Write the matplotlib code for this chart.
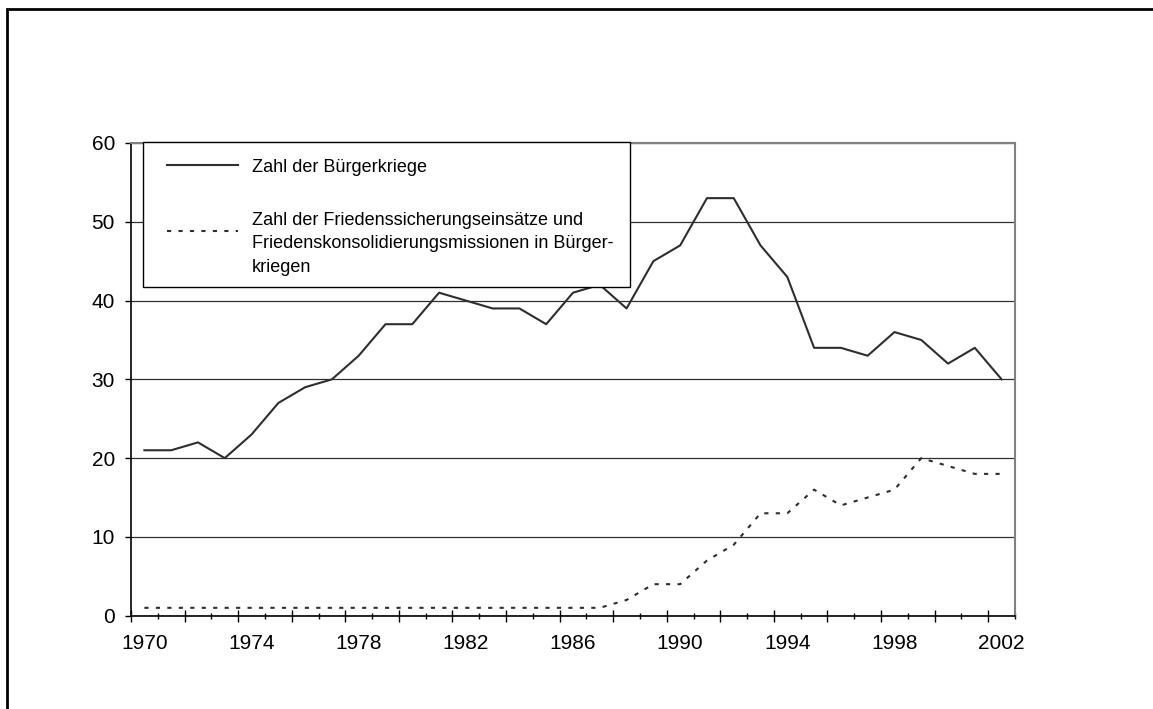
import matplotlib
matplotlib.use("Agg")
from matplotlib import pyplot as plt
from matplotlib.patches import Rectangle
from matplotlib.lines import Line2D

plt.rcParams['font.family'] = ['Liberation Sans', 'DejaVu Sans']

# Jahre und Werte
years = list(range(1970, 2003))
buergerkriege = [21, 21, 22, 20, 23, 27, 29, 30, 33, 37, 37, 41, 40, 39, 39, 37, 41,
                 42, 39, 45, 47, 53, 53, 47, 43, 34, 34, 33, 36, 35, 32, 34, 30]
missionen = [1, 1, 1, 1, 1, 1, 1, 1, 1, 1, 1, 1, 1, 1, 1, 1, 1,
             1, 2, 4, 4, 7, 9, 13, 13, 16, 14, 15, 16, 20, 19, 18, 18]
label_years = [1970, 1974, 1978, 1982, 1986, 1990, 1994, 1998, 2002]
legend_labels = ["Zahl der Bürgerkriege",
                 "Zahl der Friedenssicherungseinsätze und\n"
                 "Friedenskonsolidierungsmissionen in Bürger-\nkriegen"]

W, H = 1153, 709
fig = plt.figure(figsize=(W / 100, H / 100), dpi=100)

def fx(px):
    return px / W

def fy(py):
    return 1 - py / H

ax = fig.add_axes([fx(131), fy(615.7), fx(1015) - fx(131), fy(143) - fy(615.7)])

x = list(range(len(years)))
ax.plot(x, buergerkriege, color="#2e2e2e", lw=1.5, zorder=3)
ax.plot(x, missionen, color="#2e2e2e", lw=1.5, dashes=(2, 3.5), zorder=3)

ax.set_xlim(-0.5, len(years) - 0.5)
ax.set_ylim(0, 60)
ax.set_yticks(range(0, 61, 10))
ax.yaxis.grid(True, color="#303030", lw=0.9)
ax.set_axisbelow(True)

# Beschriftung in der Mitte der Kategorien, Striche an den Grenzen
ax.set_xticks([years.index(y) for y in label_years])
ax.set_xticklabels([str(y) for y in label_years])
ax.set_xticks([i - 0.5 for i in range(1, len(years) + 1, 2)], minor=True)
ax.tick_params(axis="x", which="major", length=0, pad=13, labelsize=15)
ax.tick_params(axis="x", which="minor", direction="inout", length=4, width=1)
ax.tick_params(axis="y", which="major", direction="out", length=4.5, width=1,
               pad=7, labelsize=15)

sec = ax.secondary_xaxis("bottom")
sec.set_xticks([i - 0.5 for i in range(0, len(years), 2)])
sec.set_xticklabels([])
sec.tick_params(direction="inout", length=9, width=1)
sec.spines["bottom"].set_visible(False)

for s in ["left", "bottom"]:
    ax.spines[s].set_color("black")
    ax.spines[s].set_linewidth(1.2)
for s in ["top", "right"]:
    ax.spines[s].set_color("#808080")
    ax.spines[s].set_linewidth(1.5)

# Legende
fig.add_artist(Rectangle((fx(143), fy(287)), fx(630) - fx(143), fy(142) - fy(287),
                         transform=fig.transFigure, fc="white", ec="black", lw=1, zorder=5))
fig.add_artist(Line2D([fx(167), fx(238)], [fy(165), fy(165)], color="#2e2e2e", lw=1.5,
                      transform=fig.transFigure, zorder=6))
fig.add_artist(Line2D([fx(167), fx(238)], [fy(231), fy(231)], color="#2e2e2e", lw=1.5,
                      dashes=(2, 3.5), transform=fig.transFigure, zorder=6))
fig.text(fx(252), fy(171.7), legend_labels[0], fontsize=13, va="baseline", ha="left", zorder=6)
fig.text(fx(252), fy(244), legend_labels[1], fontsize=13, va="center", ha="left",
         linespacing=1.5, zorder=6)

# Rahmen (rechts und unten ausserhalb des Bildes)
fig.add_artist(Rectangle((fx(7), fy(720)), fx(1170) - fx(7), fy(9) - fy(720),
                         transform=fig.transFigure, fc="none", ec="black", lw=2, zorder=7))

fig.savefig("out.png", dpi=100)
